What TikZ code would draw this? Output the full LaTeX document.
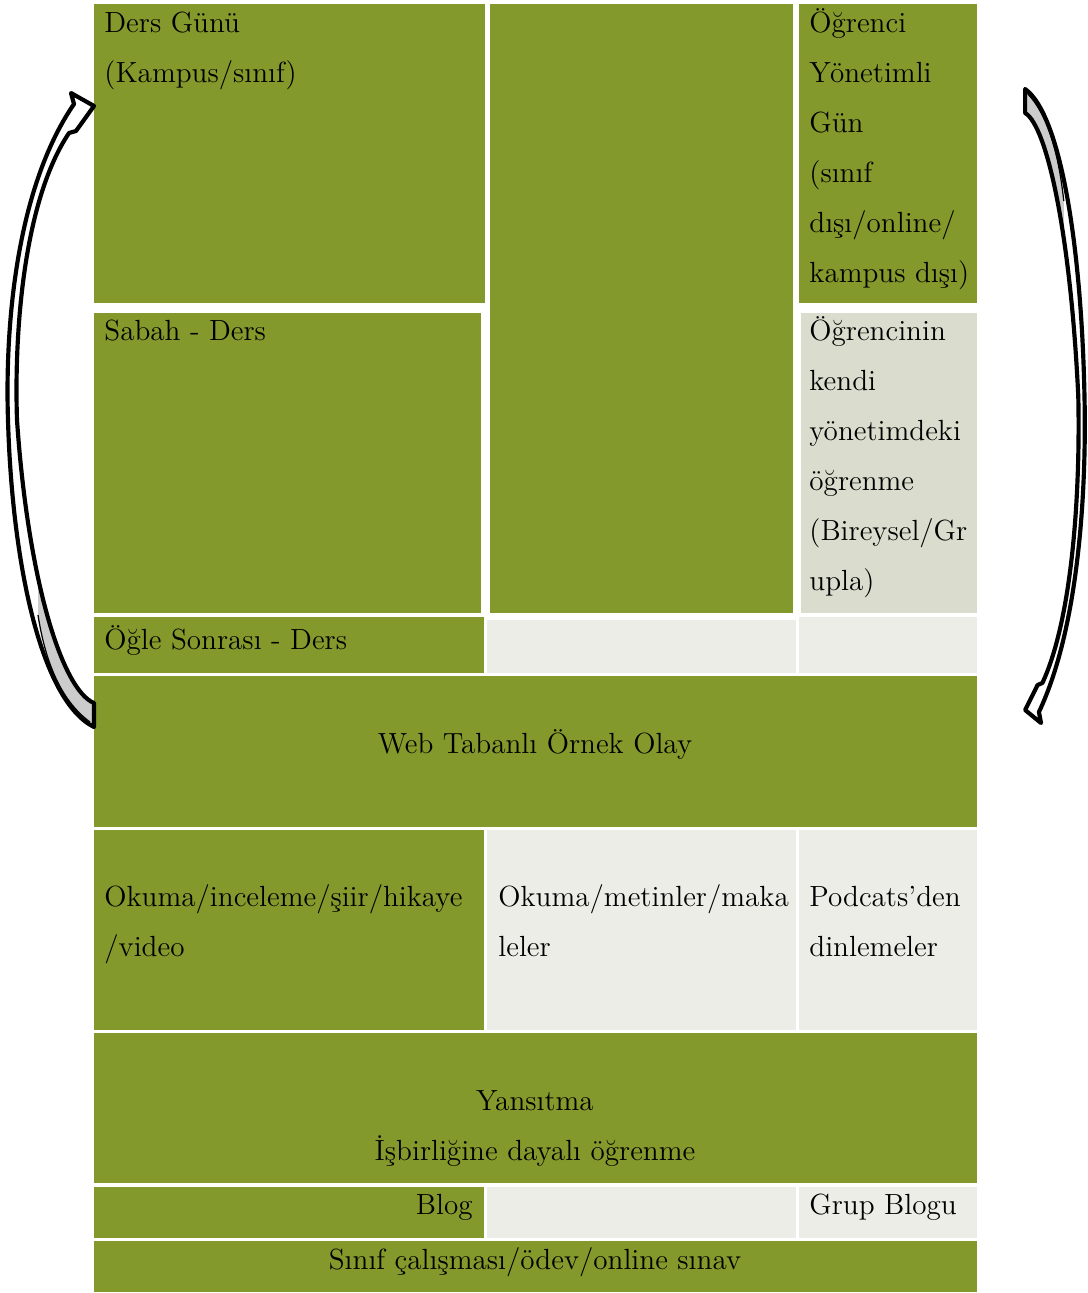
\documentclass[tikz,border=0pt]{standalone}
\usepackage{fontspec}
\definecolor{olive}{RGB}{132,153,43}
\definecolor{paper}{RGB}{236,237,231}
\definecolor{sage}{RGB}{218,221,206}
% outline of the curved block arrow, in pixel units
\newcommand{\bandline}{(94,106) -- (71,93) -- (74,104)
  .. controls (15,190) and (5,330) .. (8,420)
  .. controls (12,560) and (40,700) .. (94,727) -- (94,703)
  .. controls (62,690) and (28,580) .. (17,420)
  .. controls (14,330) and (24,200) .. (69,133) -- (76,131) -- cycle}
\tikzset{
  grn/.style={fill=olive},
  lgt/.style={fill=paper},
  sge/.style={fill=sage},
  txt/.style={inner sep=0pt, font=\fontsize{14}{24}\selectfont, align=left},
  ctxt/.style={txt, align=center},
  band/.style={draw=black, line width=2pt, line join=round},
  shade/.style={fill=black!20},
  cyclearrow/.pic={
    \fill[white] \bandline;
    \begin{scope}
      \clip \bandline;
      \fill[shade] (38,615) .. controls (45,660) and (60,700) .. (90,722)
        -- (110,740) -- (110,560) -- (38,560) -- cycle;
      \draw[line width=0.6pt] (38,615) .. controls (45,660) and (60,700) .. (90,722);
    \end{scope}
    \draw[band] \bandline;
  },
}

\begin{document}
\begin{tikzpicture}[x=0.48pt, y=-0.48pt]
  \path[use as bounding box, fill=white] (0,0) rectangle (1087,1293);

  % table cells
  \foreach \xa/\ya/\xb/\yb/\c in {
    94/4/485/303/grn, 490/4/793/613/grn, 799/4/977/303/grn,
    94/313/481/613/grn, 801/313/977/613/sge,
    94/617/484/673/grn, 487/620/796/673/lgt, 799/617/977/673/lgt,
    94/676/977/827/grn,
    94/830/484/1030/grn, 487/830/796/1030/lgt, 799/830/977/1030/lgt,
    94/1033/977/1183/grn,
    94/1187/484/1238/grn, 487/1187/796/1238/lgt, 799/1187/977/1238/lgt,
    94/1241/977/1292/grn}{
    \path[\c] (\xa,\ya) rectangle (\xb,\yb);
  }

  % texts (base = last line)
  \node[txt, anchor=base west] (dersgunu) at (104,82) {Ders Günü\\(Kampus/sınıf)};
  \node[txt, anchor=base west] (ogrgun) at (809,282)
    {Öğrenci\\Yönetimli\\Gün\\(sınıf\\dışı/online/\\kampus dışı)};
  \node[txt, anchor=base west] (sabah) at (104,340) {Sabah - Ders};
  \node[txt, anchor=base west] (kendi) at (809,590)
    {Öğrencinin\\kendi\\yönetimdeki\\öğrenme\\(Bireysel/Gr\\upla)};
  \node[txt, anchor=base west] (ogle) at (104,649) {Öğle Sonrası - Ders};
  \node[ctxt, anchor=base] (web) at (535,753) {Web Tabanlı Örnek Olay};
  \node[txt, anchor=base west] (okuma) at (104,956) {Okuma/inceleme/şiir/hikaye\\/video};
  \node[txt, anchor=base west] (metin) at (498,956) {Okuma/metinler/maka\\leler};
  \node[txt, anchor=base west] (podcast) at (809,956) {Podcats’den\\dinlemeler};
  \node[ctxt, anchor=base] (yansit) at (535,1160) {Yansıtma\\İşbirliğine dayalı öğrenme};
  \node[txt, anchor=base east] (blog) at (473,1214) {Blog};
  \node[txt, anchor=base west] (grupblog) at (809,1214) {Grup Blogu};
  \node[ctxt, anchor=base] (sinav) at (535,1269) {Sınıf çalışması/ödev/online sınav};

  % cycle arrows
  \pic at (0,0) {cyclearrow};
  \pic[xscale=-0.69, yscale=-1] at (1090,816) {cyclearrow};
\end{tikzpicture}
\end{document}
